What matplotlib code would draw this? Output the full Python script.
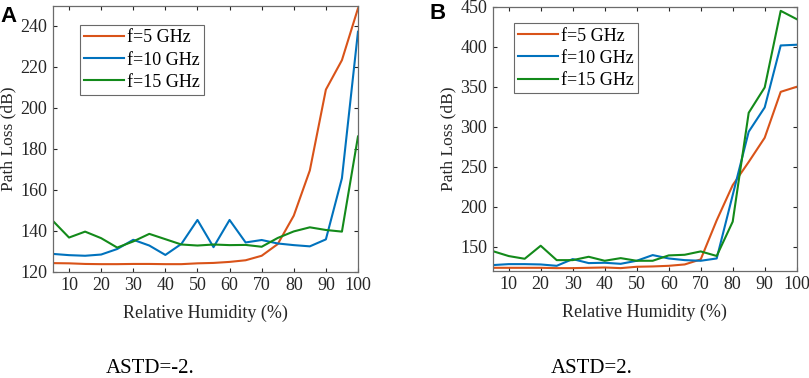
import numpy as np
import matplotlib
matplotlib.use('Agg')
import matplotlib.pyplot as plt

plt.rcParams['font.family'] = ['Liberation Serif', 'DejaVu Serif']
plt.rcParams['mathtext.fontset'] = 'stix'

humidity = [5, 10, 15, 20, 25, 30, 35, 40, 45, 50, 55, 60, 65, 70, 75, 80, 85, 90, 95, 100]

# ASTD = -2
a_f5 = [124.1, 124.0, 123.7, 123.6, 123.6, 123.7, 123.7, 123.6, 123.6, 124.0,
        124.2, 124.7, 125.5, 127.7, 133.4, 147.3, 169.4, 208.9, 223.3, 248.6]
a_f10 = [128.6, 128.0, 127.7, 128.3, 131.0, 135.5, 132.7, 128.1, 133.5, 145.2,
         131.9, 145.2, 134.2, 135.4, 133.7, 132.9, 132.3, 135.7, 165.6, 237.2]
a_f15 = [144.7, 136.6, 139.5, 136.3, 131.7, 134.7, 138.4, 135.8, 133.2, 132.7,
         133.2, 132.9, 133.0, 132.1, 136.4, 139.6, 141.6, 140.3, 139.5, 186.0]

# ASTD = 2
b_f5 = [123.6, 123.6, 123.6, 123.6, 123.2, 123.2, 123.6, 124.0, 123.2, 124.9,
        125.3, 126.1, 127.8, 134.1, 183.0, 227.0, 256.0, 286.3, 343.7, 350.0]
b_f10 = [127.0, 128.2, 128.2, 127.8, 126.1, 134.5, 129.5, 129.9, 128.6, 132.4,
         139.5, 135.3, 133.2, 132.4, 135.3, 214.6, 293.8, 324.2, 401.7, 402.6]
b_f15 = [144.5, 138.3, 134.9, 151.2, 133.2, 133.2, 137.4, 132.4, 135.7, 132.4,
         132.4, 139.1, 139.9, 144.1, 138.4, 181.3, 317.5, 349.2, 445.0, 434.6]

labels = ['f=5 GHz', 'f=10 GHz', 'f=15 GHz']
colors = ['#D95319', '#0072BD', '#138A1A']

fig = plt.figure(figsize=(8.09, 3.78), dpi=100)
ax1 = fig.add_axes([0.0655, 0.2817, 0.377, 0.7037])
ax2 = fig.add_axes([0.609, 0.2839, 0.3758, 0.698])


def style_axes(ax, series, ylim, yticks, leg_anchor):
    for ys, lab, c in zip(series, labels, colors):
        ax.plot(humidity, ys, color=c, lw=1.5, label=lab)
    ax.set_xlim(5, 100)
    ax.set_ylim(*ylim)
    ax.set_xticks(np.arange(10, 101, 10))
    ax.set_yticks(yticks)
    ax.tick_params(direction='in', top=True, right=True, length=3,
                   labelsize=13, colors='#262626', width=0.8, pad=4)
    for sp in ax.spines.values():
        sp.set_color('#6b6b6b')
        sp.set_linewidth(0.9)
    ax.set_xlabel('Relative Humidity (%)', fontsize=13, color='#262626')
    ax.set_ylabel('Path Loss (dB)', fontsize=12.5, color='#262626')
    ax.xaxis.set_label_coords(0.5, -0.126)
    ax.yaxis.set_label_coords(-0.121, 0.5)
    leg = ax.legend(loc='upper left', bbox_to_anchor=leg_anchor, borderaxespad=0,
                    fontsize=13, fancybox=False, handlelength=2.2,
                    labelspacing=0.28, borderpad=0.25, handletextpad=0.15)
    leg.get_frame().set_edgecolor('#444444')
    leg.get_frame().set_linewidth(0.8)


style_axes(ax1, [a_f5, a_f10, a_f15], (120, 250), np.arange(120, 241, 20),
           (0.0885, 0.927))
style_axes(ax2, [b_f5, b_f10, b_f15], (120, 450), np.arange(150, 451, 50),
           (0.070, 0.938))

fig.text(0.0, 0.985, 'A', fontsize=16, fontweight='bold', family='Liberation Sans',
         va='top', ha='left')
fig.text(0.531, 0.993, 'B', fontsize=16, fontweight='bold', family='Liberation Sans',
         va='top', ha='left')

fig.text(150 / 809, 0.013, 'ASTD=-2.', fontsize=15, ha='center', va='baseline')
fig.text(592 / 809, 0.013, 'ASTD=2.', fontsize=15, ha='center', va='baseline')

fig.savefig('out.png', dpi=100)
